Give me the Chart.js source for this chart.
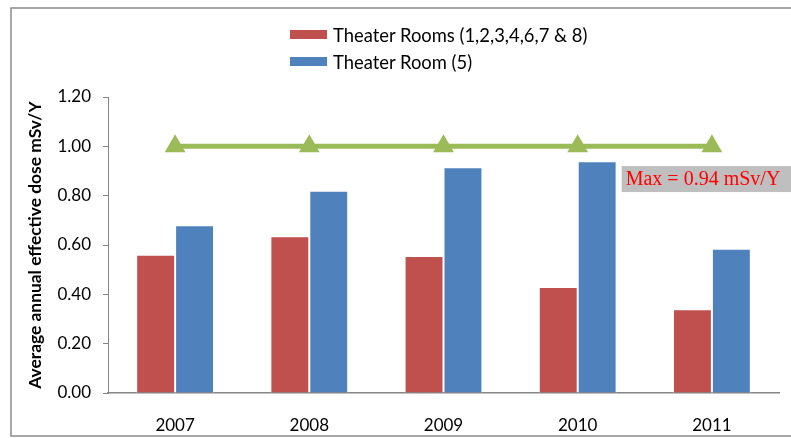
<!DOCTYPE html>
<html>
<head>
<meta charset="utf-8">
<script src="https://cdn.jsdelivr.net/npm/chart.js@4"></script>
<style>
  html, body { margin: 0; padding: 0; background: #fff; }
  #wrap { position: relative; width: 791px; height: 438px; }
  #legend { position: absolute; left: 290px; top: 21px; font-family: Lato, sans-serif; font-size: 18.4px; color: #000; }
  #legend .item { display: flex; align-items: center; height: 27px; }
  #legend .box { width: 37px; height: 9px; margin-right: 6px; }
</style>
</head>
<body>
<div id="wrap">
  <canvas id="chart" width="791" height="438"></canvas>
  <div id="legend"></div>
</div>
<script>
const years = ["2007", "2008", "2009", "2010", "2011"];
const theaterRooms = [0.56, 0.635, 0.555, 0.43, 0.34];
const theaterRoom5 = [0.68, 0.82, 0.915, 0.94, 0.585];
const doseLimit = [1.0, 1.0, 1.0, 1.0, 1.0];
const yTicks = [0, 0.2, 0.4, 0.6, 0.8, 1.0, 1.2];
const maxNote = "Max = 0.94 mSv/Y";

const RED = "#C0504D";
const BLUE = "#4F81BD";
const GREEN = "#9BBB59";
const AXIS = "#868686";

// frame round the whole chart + the "Max" note
const extras = {
  id: "extras",
  beforeDraw(chart) {
    const ctx = chart.ctx;
    ctx.save();
    ctx.strokeStyle = "#8c8c8c";
    ctx.lineWidth = 1.5;
    ctx.strokeRect(11, 8, 800, 428);
    ctx.restore();
  },
  afterDatasetsDraw(chart) {
    const ctx = chart.ctx;
    const x0 = chart.scales.x.getPixelForValue(3) + 44;
    const y0 = chart.scales.y.getPixelForValue(0.92);
    ctx.save();
    ctx.fillStyle = "#BFBFBF";
    ctx.fillRect(x0, y0, chart.width - x0, 26);
    ctx.fillStyle = "#FF0000";
    ctx.font = "20px 'Liberation Serif', serif";
    ctx.textBaseline = "middle";
    ctx.fillText(maxNote, x0 + 4, y0 + 14);
    ctx.restore();
  }
};

const chart = new Chart(document.getElementById("chart"), {
  data: {
    labels: years,
    datasets: [
      {
        type: "line",
        label: "limit",
        data: doseLimit,
        borderColor: GREEN,
        backgroundColor: GREEN,
        borderWidth: 5,
        pointStyle: "triangle",
        pointRadius: 12,
        pointHoverRadius: 12,
        pointBorderWidth: 0,
        order: 0
      },
      {
        type: "bar",
        label: "Theater Rooms (1,2,3,4,6,7 & 8)",
        data: theaterRooms,
        backgroundColor: RED,
        borderColor: "#ffffff",
        borderWidth: { left: 1, right: 1, top: 1, bottom: 0 },
        categoryPercentage: 0.58,
        barPercentage: 1,
        order: 1
      },
      {
        type: "bar",
        label: "Theater Room (5)",
        data: theaterRoom5,
        backgroundColor: BLUE,
        borderColor: "#ffffff",
        borderWidth: { left: 1, right: 1, top: 1, bottom: 0 },
        categoryPercentage: 0.58,
        barPercentage: 1,
        order: 1
      }
    ]
  },
  options: {
    responsive: false,
    animation: false,
    layout: { padding: { left: 0, right: 12, top: 97, bottom: 0 } },
    plugins: {
      legend: { display: false },
      tooltip: { enabled: false }
    },
    scales: {
      x: {
        offset: true,
        grid: { drawOnChartArea: false, drawTicks: false },
        border: { display: true, color: AXIS, width: 1.5 },
        ticks: { color: "#000", padding: 22, font: { family: "Lato", size: 17 } },
        afterFit(scale) { scale.height = 45; }
      },
      y: {
        min: 0,
        max: 1.2,
        afterBuildTicks(scale) { scale.ticks = yTicks.map(v => ({ value: v })); },
        grid: { drawOnChartArea: false, drawTicks: true, tickLength: 5, color: AXIS },
        border: { display: true, color: AXIS, width: 1 },
        ticks: {
          color: "#000",
          padding: 12,
          font: { family: "Lato", size: 17 },
          callback: v => Number(v).toFixed(2)
        },
        title: {
          display: true,
          text: "Average annual effective dose mSv/Y",
          color: "#000",
          font: { family: "Lato", size: 17.4, weight: "bold" },
          padding: { top: 25, bottom: 0 }
        },
        afterFit(scale) { scale.width = 108; }
      }
    }
  },
  plugins: [extras]
});

// two-row legend built from the bar datasets
const legend = document.getElementById("legend");
chart.data.datasets.filter(d => d.type === "bar").forEach(d => {
  const item = document.createElement("div");
  item.className = "item";
  const box = document.createElement("span");
  box.className = "box";
  box.style.background = d.backgroundColor;
  const txt = document.createElement("span");
  txt.textContent = d.label;
  item.appendChild(box);
  item.appendChild(txt);
  legend.appendChild(item);
});
</script>
</body>
</html>
